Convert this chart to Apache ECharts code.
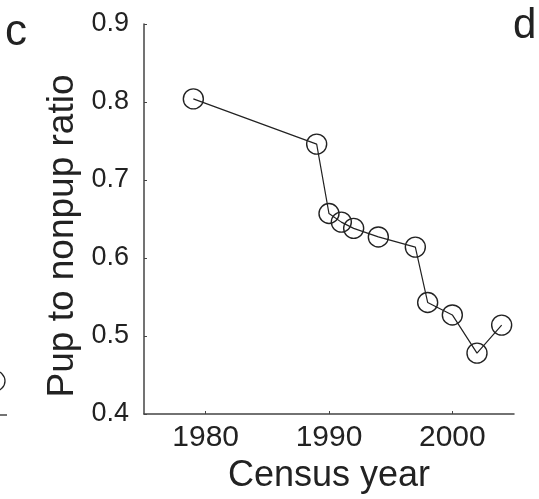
<!DOCTYPE html>
<html>
<head>
<meta charset="utf-8">
<script src="https://cdn.jsdelivr.net/npm/echarts@6/dist/echarts.min.js"></script>
<style>
  html, body { margin: 0; padding: 0; background: #fff; }
  #chart { width: 539px; height: 499px; }
</style>
</head>
<body>
<div id="chart"></div>
<script>
// census data
const years = [1979, 1989, 1990, 1991, 1992, 1994, 1997, 1998, 2000, 2002, 2004]
const ratios = [0.804, 0.746, 0.657, 0.646, 0.638, 0.627, 0.614, 0.543, 0.527, 0.478, 0.514]
const xTicks = [1980, 1990, 2000]
const yTicks = [0.4, 0.5, 0.6, 0.7, 0.8, 0.9]

const ink = '#222'
const font = '"Liberation Sans", Arial, sans-serif'

const chart = echarts.init(document.getElementById('chart'))

const option = {
  animation: false,
  backgroundColor: '#fff',
  grid: { left: 144, top: 24, width: 370, height: 391 },
  xAxis: {
    type: 'value',
    min: 1975,
    max: 2005,
    name: 'Census year',
    nameLocation: 'middle',
    nameGap: 44,
    nameTextStyle: { fontFamily: font, fontSize: 36, color: ink },
    axisLine: { lineStyle: { color: '#444', width: 1.5 } },
    axisTick: { inside: true, length: 3, customValues: xTicks, lineStyle: { color: '#444' } },
    axisLabel: {
      customValues: xTicks,
      margin: 9,
      fontFamily: font,
      fontSize: 30,
      color: ink,
      formatter: v => String(v)
    },
    splitLine: { show: false }
  },
  yAxis: {
    type: 'value',
    min: 0.4,
    max: 0.9,
    interval: 0.1,
    axisLine: { show: true, lineStyle: { color: '#444', width: 1.5 } },
    axisTick: { show: true, inside: true, length: 3, lineStyle: { color: '#444' } },
    axisLabel: {
      margin: 15,
      fontFamily: font,
      fontSize: 27,
      color: ink,
      formatter: v => yTicks.includes(Math.round(v * 10) / 10) ? v.toFixed(1) : ''
    },
    splitLine: { show: false }
  },
  graphic: [
    { type: 'text', left: 5, top: 11, style: { text: 'c', font: '44px ' + font, fill: ink } },
    { type: 'text', left: 513, top: 5, style: { text: 'd', font: '42px ' + font, fill: ink } },
    {
      type: 'text', x: 63, y: 236, rotation: Math.PI / 2,
      style: { text: 'Pup to nonpup ratio', font: '37px ' + font, fill: ink, align: 'center', verticalAlign: 'middle' }
    },
    // bits of the neighbouring panel at the left edge
    { type: 'circle', shape: { cx: -5, cy: 381, r: 10 }, style: { fill: 'none', stroke: ink, lineWidth: 1.3 } },
    { type: 'line', shape: { x1: 0, y1: 415, x2: 7, y2: 415 }, style: { stroke: '#444', lineWidth: 1.5 } }
  ],
  series: [
    {
      type: 'line',
      data: years.map((y, i) => [y, ratios[i]]),
      symbol: 'circle',
      symbolSize: 20,
      lineStyle: { color: ink, width: 1.2 },
      itemStyle: { color: 'transparent', borderColor: ink, borderWidth: 1.4 }
    }
  ]
}

chart.setOption(option)
</script>
</body>
</html>
